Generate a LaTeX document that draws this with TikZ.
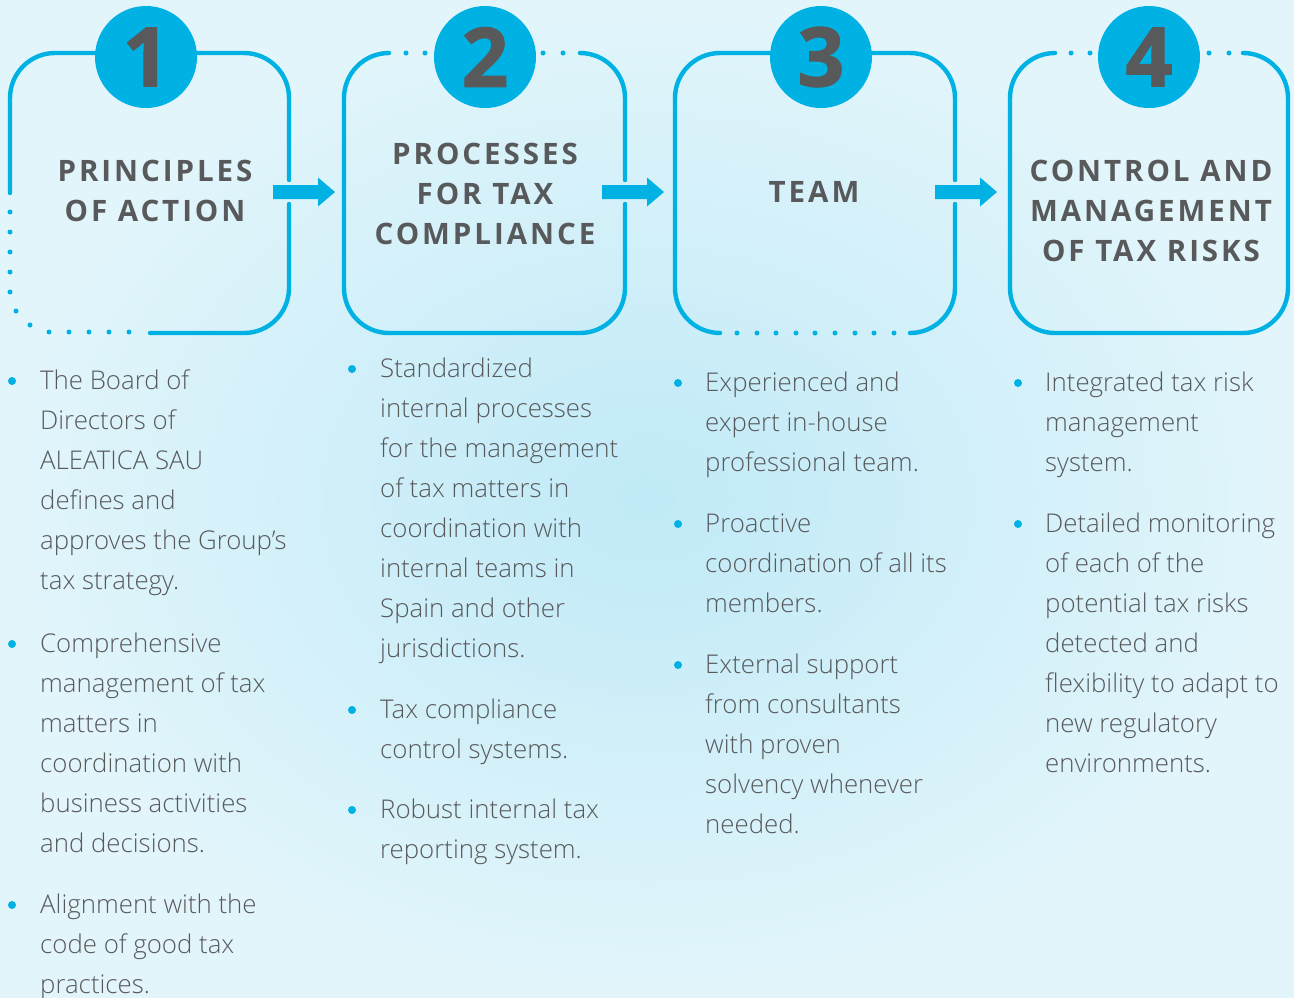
\documentclass[tikz,border=0pt]{standalone}
\usepackage{fontspec}
\IfFontExistsTF{Open Sans Light}{\newfontfamily\bodyfont{Open Sans Light}}{\newfontfamily\bodyfont{Open Sans}}
\newfontfamily\headfont[LetterSpace=10]{Open Sans}
\IfFontExistsTF{Open Sans ExtraBold}{\newfontfamily\numfont{Open Sans ExtraBold}}{\newfontfamily\numfont[FakeBold=1.5]{Open Sans Bold}}
\definecolor{acyan}{HTML}{00B2E3}
\definecolor{agrey}{HTML}{58595B}
\definecolor{bgin}{HTML}{C0EAF7}
\definecolor{bgout}{HTML}{E2F5FB}
\newcommand{\hstrut}{\rule{0pt}{28pt}}
\newcommand{\bstrut}{\rule{0pt}{30pt}}
\tikzset{
  frame/.style={draw=acyan, line width=4.4pt, line cap=round, rounded corners=45pt},
  dotmark/.style={circle, fill=acyan, inner sep=0pt, minimum size=5pt},
  numcircle/.style={circle, fill=acyan, inner sep=0pt, minimum size=102pt, text=agrey, font=\numfont\fontsize{82}{82}\selectfont},
  headtext/.style={anchor=north, inner sep=0pt, align=center, text=agrey, font=\headfont\bfseries\fontsize{29.5}{40}\selectfont},
  bodytext/.style={anchor=north west, inner sep=0pt, align=left, text=agrey, font=\bodyfont\fontsize{25.8}{40}\selectfont},
  bullet/.style={circle, fill=acyan, inner sep=0pt, minimum size=8pt},
  blockarrow/.style={fill=acyan}
}
\begin{document}
\begin{tikzpicture}[x=1pt,y=-1pt]
\useasboundingbox (0,0) rectangle (1294,997);
\shade[inner color=bgin, outer color=bgout] (0,0) rectangle (1294,997);

% ---------- box 1 ----------
\draw[frame] (10,193) -- (10,53) -- (289,53) -- (289,180);
\draw[frame] (289,204) -- (289,333) -- (150,333);
\foreach \p [count=\i] in {(10,212),(10,232),(10,252),(10,272),(10,292),(16,311),(30,325),(49,332),(69,332),(89,332),(109,332),(129,332)}
  \node[dotmark] (d1-\i) at \p {};
% ---------- box 2 ----------
\draw[frame] (389,53) -- (344,53) -- (344,333) -- (625,333) -- (625,204);
\draw[frame] (625,180) -- (625,53) -- (580,53);
\foreach \x [count=\i] in {406,425,543,563}
  \node[dotmark] (d2-\i) at (\x,53) {};
% ---------- box 3 ----------
\draw[frame] (720,333) -- (675,333) -- (675,53) -- (955,53) -- (955,180);
\draw[frame] (955,204) -- (955,333) -- (910,333);
\foreach \x [count=\i] in {737,757,776,796,815,835,855,874,894}
  \node[dotmark] (d3-\i) at (\x,333) {};
% ---------- box 4 ----------
\draw[frame] (1055,53) -- (1010,53) -- (1010,333) -- (1288,333) -- (1288,53) -- (1243,53);
\foreach \x [count=\i] in {1071,1090,1209,1229}
  \node[dotmark] (d4-\i) at (\x,53) {};

% ---------- number circles ----------
\node[numcircle] (n1) at (146,57) {1};
\node[numcircle] (n2) at (485,57) {2};
\node[numcircle] (n3) at (821,57) {3};
\node[numcircle] (n4) at (1149,57) {4};

% ---------- titles ----------
\node[headtext] (t1) at (155,153) {\hstrut PRINCIPLES\\OF ACTION};
\node[headtext] (t2) at (485,136) {\hstrut PROCESSES\\FOR TAX\\COMPLIANCE};
\node[headtext] (t3) at (814,174) {\hstrut TEAM};
\node[headtext] (t4) at (1151,153) {\hstrut CONTROL AND\\MANAGEMENT\\OF TAX RISKS};

% ---------- arrows ----------
\coordinate (a1) at (273,192);
\coordinate (a2) at (602,192);
\coordinate (a3) at (935,192);
\foreach \a in {a1,a2,a3}
  \fill[blockarrow, shift={(\a)}] (0,-7) -- (45,-7) -- (45,-14.5) -- (62,0) -- (45,14.5) -- (45,7) -- (0,7) -- cycle;

% ---------- column 1 ----------
\node[bullet] (b1a) at (12,381) {};
\node[bodytext] (c1a) at (40,359) {\bstrut The Board of\\Directors of\\ALEATICA SAU\\defines and\\approves the Group’s\\tax strategy.};
\node[bullet] (b1b) at (12,644) {};
\node[bodytext] (c1b) at (40,622) {\bstrut Comprehensive\\management of tax\\matters in\\coordination with\\business activities\\and decisions.};
\node[bullet] (b1c) at (12,905) {};
\node[bodytext] (c1c) at (40,883) {\bstrut Alignment with the\\code of good tax\\practices.};

% ---------- column 2 ----------
\node[bullet] (b2a) at (352,369) {};
\node[bodytext] (c2a) at (380,347) {\bstrut Standardized\\internal processes\\for the management\\of tax matters in\\coordination with\\internal teams in\\Spain and other\\jurisdictions.};
\node[bullet] (b2b) at (352,710) {};
\node[bodytext] (c2b) at (380,688) {\bstrut Tax compliance\\control systems.};
\node[bullet] (b2c) at (352,810) {};
\node[bodytext] (c2c) at (380,788) {\bstrut Robust internal tax\\reporting system.};

% ---------- column 3 ----------
\node[bullet] (b3a) at (678,383) {};
\node[bodytext] (c3a) at (705,361) {\bstrut Experienced and\\expert in-house\\professional team.};
\node[bullet] (b3b) at (678,524) {};
\node[bodytext] (c3b) at (705,502) {\bstrut Proactive\\coordination of all its\\members.};
\node[bullet] (b3c) at (678,665) {};
\node[bodytext] (c3c) at (705,643) {\bstrut External support\\from consultants\\with proven\\solvency whenever\\needed.};

% ---------- column 4 ----------
\node[bullet] (b4a) at (1018,383) {};
\node[bodytext] (c4a) at (1045,361) {\bstrut Integrated tax risk\\management\\system.};
\node[bullet] (b4b) at (1018,524) {};
\node[bodytext] (c4b) at (1045,502) {\bstrut Detailed monitoring\\of each of the\\potential tax risks\\detected and\\flexibility to adapt to\\new regulatory\\environments.};
\end{tikzpicture}
\end{document}
